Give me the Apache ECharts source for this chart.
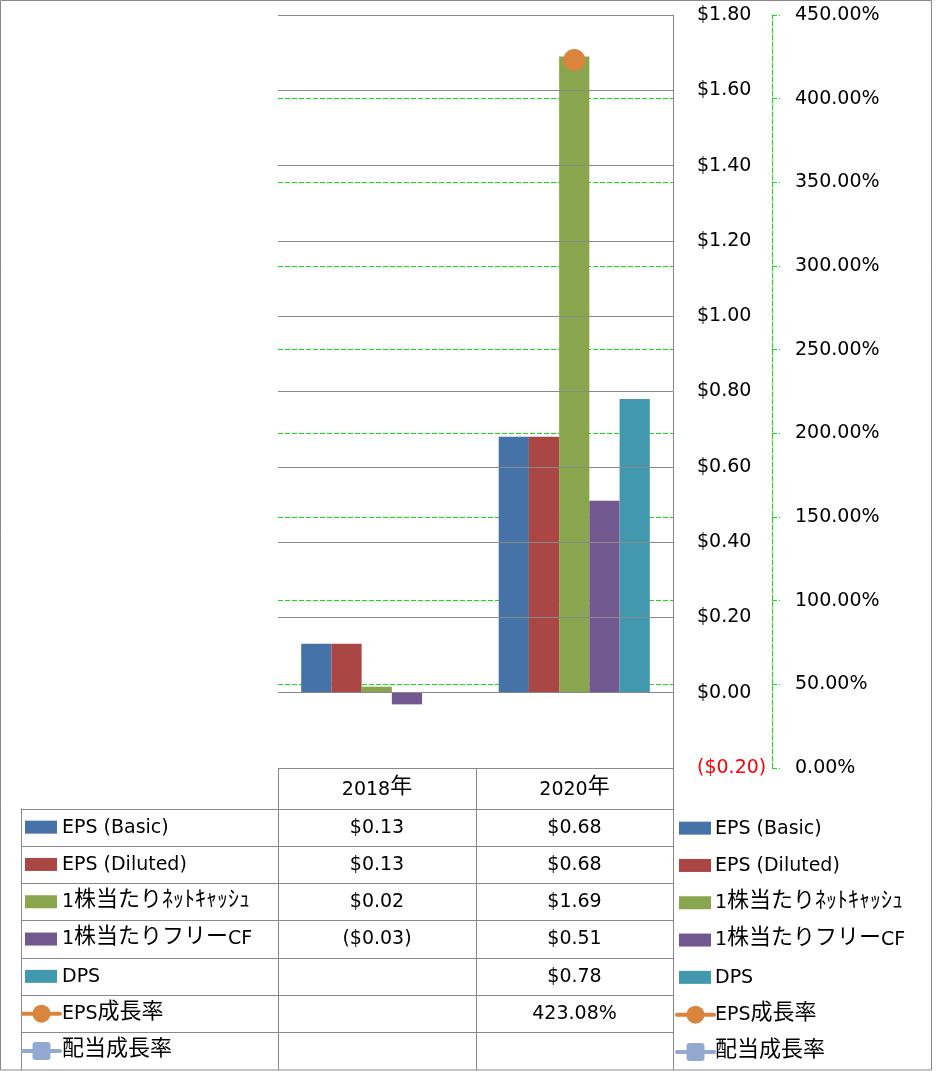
<!DOCTYPE html>
<html>
<head>
<meta charset="utf-8">
<script src="https://cdn.jsdelivr.net/npm/echarts@6/dist/echarts.min.js"></script>
<style>html,body{margin:0;padding:0;background:#fff;}#c{width:936px;height:1071px;}</style>
</head>
<body>
<div id="c"></div>
<script>
// ---- data ----
const categories = ['2018年', '2020年'];
const seriesNames = ['EPS (Basic)', 'EPS (Diluted)', '1株当たりﾈｯﾄｷｬｯｼｭ', '1株当たりフリーCF', 'DPS', 'EPS成長率', '配当成長率'];
const epsBasic = [0.13, 0.68];
const epsDiluted = [0.13, 0.68];
const netCashPerShare = [0.016, 1.69];
const freeCfPerShare = [-0.031, 0.51];
const dps = [null, 0.78];
const epsGrowth = [null, 423.08];
const divGrowth = [null, null];
const colors = ['#4572A7', '#AA4643', '#89A54E', '#71588F', '#4198AF', '#DB843D', '#93A9CF'];

const barData = [epsBasic, epsDiluted, netCashPerShare, freeCfPerShare, dps];
const lineData = [epsGrowth, divGrowth];

const FONT = '"DejaVu Sans", "Noto Sans CJK JP", sans-serif';
const CJK_FONT = '"Noto Sans CJK JP", sans-serif';
const FS = 19;
const CJK_FS = 22;
const CJK_DY = -5;
const GRID_C = '#898989';
const GREEN = '#11E011';

function money(v) {
  if (v == null) return '';
  return v < 0 ? '($' + Math.abs(v).toFixed(2) + ')' : '$' + v.toFixed(2);
}
function pct(v) { return v == null ? '' : v.toFixed(2) + '%'; }

// split text into latin / CJK runs, measured so each run can use its own font
const CJK_RE = /[\u3000-\u9fff\uff00-\uffef]/;
const mctx = document.createElement('canvas').getContext('2d');
function splitRuns(s) {
  const out = [];
  for (const ch of s) {
    const cjk = CJK_RE.test(ch);
    if (out.length && out[out.length - 1].cjk === cjk) out[out.length - 1].t += ch;
    else out.push({t: ch, cjk: cjk});
  }
  out.forEach(r => {
    mctx.font = r.cjk ? (CJK_FS + 'px ' + CJK_FONT) : (FS + 'px ' + FONT);
    r.w = mctx.measureText(r.t).width;
  });
  return out;
}

// ---- table / legend graphics ----
const tableTop = 768, headBottom = 808.5, rowH = 37.3, tableBottom = 1070;
const colX = [21, 278, 476, 673];
const graphics = [];
function hline(x1, x2, y) { graphics.push({type: 'line', silent: true, shape: {x1: x1, y1: y, x2: x2, y2: y}, style: {stroke: GRID_C, lineWidth: 1}}); }
function vline(x, y1, y2) { graphics.push({type: 'line', silent: true, shape: {x1: x, y1: y1, x2: x, y2: y2}, style: {stroke: GRID_C, lineWidth: 1}}); }
function txt(s, x, y, align) {
  if (!s) return;
  const rs = splitRuns(s);
  const total = rs.reduce((a, r) => a + r.w, 0);
  let cx = align === 'center' ? x - total / 2 : x;
  rs.forEach(r => {
    graphics.push({type: 'text', silent: true, x: cx, y: r.cjk ? y + CJK_DY : y, style: {
      text: r.t, fill: '#000', fontSize: r.cjk ? CJK_FS : FS, fontFamily: r.cjk ? CJK_FONT : FONT,
      align: 'left', verticalAlign: 'middle'}});
    cx += r.w;
  });
}
function key(i, x, cy) {
  const c = colors[i];
  if (i < 5) {
    graphics.push({type: 'rect', silent: true, shape: {x: x, y: cy - 6.5, width: 32, height: 13}, style: {fill: c}});
  } else {
    graphics.push({type: 'line', silent: true, shape: {x1: x - 2, y1: cy, x2: x + 35, y2: cy}, style: {stroke: c, lineWidth: 4, lineCap: 'round'}});
    if (i === 5) graphics.push({type: 'circle', silent: true, shape: {cx: x + 16.5, cy: cy, r: 9}, style: {fill: c}});
    else graphics.push({type: 'rect', silent: true, shape: {x: x + 7.5, y: cy - 9, width: 18, height: 18, r: 3}, style: {fill: c}});
  }
}
// outer border
graphics.push({type: 'rect', silent: true, shape: {x: 0.5, y: 0.5, width: 931, height: 1069.5}, style: {fill: null, stroke: GRID_C, lineWidth: 1}});
// table lines
hline(colX[1], colX[3], tableTop + 0.5);
for (let r = 0; r < seriesNames.length; r++) hline(colX[0], colX[3], Math.round(headBottom + r * rowH) + 0.5);
vline(colX[0] + 0.5, headBottom, tableBottom);
vline(colX[1] + 0.5, tableTop, tableBottom);
vline(colX[2] + 0.5, tableTop, tableBottom);
vline(colX[3] + 0.5, tableTop, tableBottom);
// header
categories.forEach((c, j) => txt(c, (colX[j + 1] + colX[j + 2]) / 2, (tableTop + headBottom) / 2 + 1.5, 'center'));
// rows
seriesNames.forEach((name, i) => {
  const cy = headBottom + rowH * (i + 0.5);
  key(i, 25, cy);
  txt(name, 62, cy + 0.5, 'left');
  const vals = i < 5 ? barData[i].map(money) : lineData[i - 5].map(pct);
  vals.forEach((v, j) => txt(v, (colX[j + 1] + colX[j + 2]) / 2, cy + 0.5, 'center'));
  // right legend
  key(i, 679, cy + 1);
  txt(name, 715, cy + 1.5, 'left');
});

// ---- chart ----
const series = [];
barData.forEach((d, i) => series.push({
  name: seriesNames[i], type: 'bar', data: d, yAxisIndex: 0,
  barGap: '0%', barCategoryGap: '23.5%', itemStyle: {color: colors[i]}
}));
lineData.forEach((d, k) => series.push({
  name: seriesNames[5 + k], type: 'line', data: d, yAxisIndex: 1,
  symbol: k === 0 ? 'circle' : 'roundRect', symbolSize: 22,
  itemStyle: {color: colors[5 + k]}, lineStyle: {color: colors[5 + k], width: 4}
}));

const chart = echarts.init(document.getElementById('c'));
chart.setOption({
  animation: false,
  backgroundColor: '#fff',
  grid: {left: 278, right: 263, top: 15, bottom: 303},
  xAxis: {type: 'category', data: categories, axisLine: {show: false}, axisTick: {show: false}, axisLabel: {show: false}, splitLine: {show: false}},
  yAxis: [{
    type: 'value', position: 'right', min: -0.2, max: 1.8, interval: 0.2,
    axisLine: {show: true, lineStyle: {color: GRID_C, width: 1}},
    axisTick: {show: false},
    axisLabel: {margin: 24, align: 'left', fontSize: FS, fontFamily: FONT,
      formatter: v => money(Math.round(v * 100) / 100),
      color: v => (v < -1e-9 ? '#FF0000' : '#000')},
    splitLine: {show: true, lineStyle: {color: GRID_C, width: 1}}, z: 3
  }, {
    type: 'value', position: 'right', offset: 99, min: 0, max: 450, interval: 50,
    axisLine: {show: true, lineStyle: {color: GREEN, width: 1, type: [5, 2]}},
    axisTick: {show: true, length: 8, lineStyle: {color: GREEN, width: 1, type: [5, 2]}},
    axisLabel: {margin: 23, align: 'left', fontSize: FS, fontFamily: FONT, color: '#000', formatter: v => v.toFixed(2) + '%'},
    splitLine: {show: true, lineStyle: {color: GREEN, width: 1, type: [5, 2]}}
  }],
  series: series,
  graphic: {elements: graphics}
});
</script>
</body>
</html>
